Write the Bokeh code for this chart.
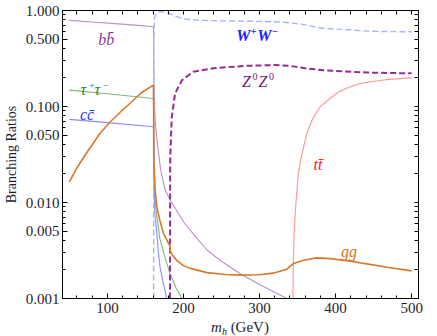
from bokeh.plotting import figure
from bokeh.models import Range1d, FixedTicker, PrintfTickFormatter, LogAxis, LinearAxis, Label, Div
from bokeh.layouts import column
from bokeh.embed import file_html
from bokeh.resources import INLINE

FONT = "Liberation Serif"

# ---- data (Higgs mass in GeV, branching ratios) ----
m_bb = [50, 80, 110, 140, 160.5, 160.8, 161, 161.5, 162.5, 164, 166, 170, 176, 182.5, 190, 200, 215, 231, 248, 275, 300, 336]
br_bb = [0.79, 0.76, 0.73, 0.70, 0.676, 0.6, 0.3, 0.15, 0.08, 0.055, 0.04, 0.022, 0.0135, 0.0106, 0.0085, 0.0063, 0.0045, 0.0032, 0.0025, 0.0018, 0.0014, 0.001]

m_tau = [50, 100, 160.5, 160.8, 161, 161.5, 162, 165, 169, 175, 182.5, 190, 198]
br_tau = [0.148, 0.136, 0.121, 0.11, 0.05, 0.02, 0.012, 0.0072, 0.0042, 0.0028, 0.0018, 0.0013, 0.001]

m_cc = [50, 100, 160.5, 160.8, 161, 161.5, 162.5, 165, 167, 169.3, 173, 178]
br_cc = [0.0735, 0.068, 0.0615, 0.055, 0.03, 0.012, 0.0075, 0.0048, 0.0031, 0.0021, 0.0015, 0.001]

m_gg = [50, 60, 75, 90, 103.5, 120, 132, 145, 160.5, 160.8, 161, 162, 163, 165, 169, 173.7, 178, 182.4, 182.6, 186, 191, 200, 209, 231, 255, 275, 300, 320, 335, 345, 358, 375, 393, 420, 437, 470, 500]
br_gg = [0.0164, 0.023, 0.035, 0.052, 0.069, 0.092, 0.112, 0.14, 0.167, 0.1, 0.03, 0.018, 0.013, 0.009, 0.0065, 0.0048, 0.0041, 0.0035, 0.0031, 0.0028, 0.0025, 0.0022, 0.00206, 0.00186, 0.00178, 0.00175, 0.00177, 0.00185, 0.002, 0.00232, 0.0025, 0.00265, 0.0026, 0.00245, 0.00232, 0.0021, 0.00194]

m_ww = [160.8, 160.85, 161, 162, 165, 170, 175, 182, 190, 200, 220, 250, 300, 327, 340, 362, 384, 410, 441, 470, 500]
br_ww = [0.001, 0.05, 0.5, 0.85, 0.95, 0.975, 0.96, 0.93, 0.87, 0.82, 0.79, 0.78, 0.77, 0.76, 0.745, 0.705, 0.65, 0.635, 0.61, 0.603, 0.60]

m_zz = [182.4, 182.45, 182.6, 184.7, 189, 198, 213, 240, 280, 320, 340, 360, 384, 410, 441, 470, 500]
br_zz = [0.001, 0.008, 0.03, 0.078, 0.137, 0.188, 0.23, 0.25, 0.265, 0.27, 0.265, 0.25, 0.239, 0.232, 0.226, 0.223, 0.222]

m_tt = [344, 344.5, 346, 348, 351, 355, 362, 370, 380, 393, 405, 415, 432, 446, 470, 500]
br_tt = [0.001, 0.0025, 0.006, 0.01, 0.02, 0.03, 0.052, 0.075, 0.1, 0.122, 0.143, 0.156, 0.173, 0.181, 0.192, 0.199]

x_major = [100, 200, 300, 400, 500]
x_minor = [60, 80, 120, 140, 160, 180, 220, 240, 260, 280, 320, 340, 360, 380, 420, 440, 460, 480]
y_major = [0.001, 0.005, 0.01, 0.05, 0.1, 0.5, 1.0]
y_minor = [0.002, 0.003, 0.004, 0.006, 0.007, 0.008, 0.009,
           0.02, 0.03, 0.04, 0.06, 0.07, 0.08, 0.09,
           0.2, 0.3, 0.4, 0.6, 0.7, 0.8, 0.9]

INK = "#1e1e2e"

p = figure(width=437, height=318, y_axis_type="log",
           x_range=Range1d(41, 509), y_range=Range1d(0.001, 1.0),
           output_backend="svg", toolbar_location=None,
           min_border_left=62, min_border_right=19, min_border_top=10, min_border_bottom=20)
p.grid.visible = False
p.outline_line_color = "black"
p.background_fill_color = "white"
p.border_fill_color = "white"

p.line(m_bb, br_bb, line_color="#b98fc6", line_width=1.1)
p.line(m_tau, br_tau, line_color="#7fb87f", line_width=1.1)
p.line(m_cc, br_cc, line_color="#8c8cff", line_width=1.1)
p.line(m_tt, br_tt, line_color="#ff9a9a", line_width=1.2)
p.line(m_ww, br_ww, line_color="#aab2ff", line_width=1.4, line_dash="6 3")
p.line(m_zz, br_zz, line_color="#952c95", line_width=2.0, line_dash="6 3")
p.line(m_gg, br_gg, line_color="#d9782a", line_width=1.6)


def style(ax):
    ax.major_tick_in = 5
    ax.major_tick_out = 0
    ax.minor_tick_in = 3
    ax.minor_tick_out = 0
    ax.axis_line_color = "black"
    ax.major_tick_line_color = "black"
    ax.minor_tick_line_color = "black"
    ax.major_label_text_font = FONT
    ax.major_label_text_font_size = "15px"
    ax.major_label_text_color = INK


def mirror(ax):
    # frame ticks without labels (all tick marks drawn as minor ticks)
    ax.major_tick_in = 0
    ax.major_tick_out = 0
    ax.minor_tick_in = 4
    ax.minor_tick_out = 0
    ax.axis_line_color = "black"
    ax.minor_tick_line_color = "black"
    ax.major_label_standoff = 0


xa = p.xaxis[0]
xa.ticker = FixedTicker(ticks=x_major, minor_ticks=x_minor)
style(xa)
xa.major_label_standoff = 4

ya = p.yaxis[0]
ya.ticker = FixedTicker(ticks=y_major, minor_ticks=y_minor)
ya.formatter = PrintfTickFormatter(format="%.3f")
style(ya)
ya.major_label_standoff = 3
ya.axis_label = "Branching Ratios"
ya.axis_label_text_font = FONT
ya.axis_label_text_font_style = "normal"
ya.axis_label_text_font_size = "14px"
ya.axis_label_text_color = INK
ya.axis_label_standoff = 4

ra = LogAxis(ticker=FixedTicker(ticks=[], minor_ticks=sorted(y_major + y_minor)))
mirror(ra)
p.add_layout(ra, "right")

ta = LinearAxis(ticker=FixedTicker(ticks=[], minor_ticks=sorted(x_major + x_minor)))
mirror(ta)
p.add_layout(ta, "above")


def piece(x, y, text, color, size=16, dx=0, dy=0, style="italic"):
    p.add_layout(Label(x=x, y=y, x_offset=dx, y_offset=dy, text=text,
                       text_color=color, text_font=FONT, text_font_style=style,
                       text_font_size=f"{size}px", text_align="left",
                       text_baseline="alphabetic"))


# channel labels (anchor = left end of the baseline, in data units)
piece(88, 0.50, "bb\u0304", "#8a3b9a")
piece(64.5, 0.148, "\u03c4", "#2a8a2a", dy=1)
piece(64.5, 0.148, "+", "#2a8a2a", size=10, dx=8, dy=5)
piece(64.5, 0.148, "\u03c4", "#2a8a2a", dx=14, dy=1)
piece(64.5, 0.148, "\u2212", "#2a8a2a", size=10, dx=22, dy=5)
piece(64, 0.0833, "cc\u0304", "#3333ff")
piece(269.5, 0.555, "W", "#2020ff", style="bold italic")
piece(269.5, 0.555, "+", "#2020ff", size=10, dx=14.5, dy=4, style="bold")
piece(269.5, 0.555, "W", "#2020ff", dx=21, style="bold italic")
piece(269.5, 0.555, "\u2212", "#2020ff", size=10, dx=36, dy=4, style="bold")
piece(277, 0.183, "Z", "#702070")
piece(277, 0.183, "0", "#702070", size=10, dx=10.5, dy=5, style="normal")
piece(277, 0.183, "Z", "#702070", dx=16.5)
piece(277, 0.183, "0", "#702070", size=10, dx=27, dy=5, style="normal")
piece(371, 0.025, "tt\u0304", "#ff2020")
piece(407, 0.0031, "gg", "#d07020")

# x-axis title  m_h (GeV)
title_html = (
    "<div style=\"width:356px;text-align:center;font-family:'Liberation Serif',serif;"
    "font-size:15px;line-height:18px;color:#1e1e2e;white-space:nowrap\">"
    "<i>m</i><i style=\"font-size:10px;position:relative;top:3px\">h</i> (GeV)</div>"
)
xtitle = Div(text=title_html, width=356, height=18, margin=(0, 0, 0, 62))

layout = column(p, xtitle, spacing=0)

open("out.html", "w").write(file_html(layout, INLINE))
